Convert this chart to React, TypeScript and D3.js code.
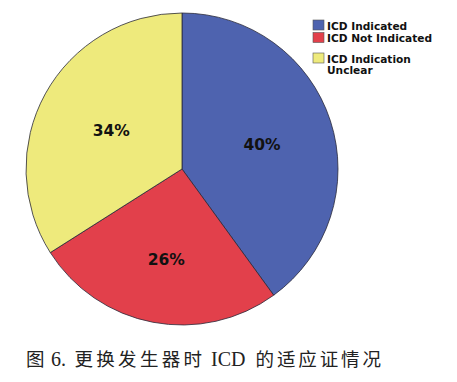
import React from "react";
import * as d3 from "d3";

const categories = ["ICD Indicated", "ICD Not Indicated", "ICD Indication Unclear"];
const values = [40, 26, 34];
const labels = ["40%", "26%", "34%"];
const colors = ["#4E63AF", "#E2404B", "#EEEA7C"];
const legendLines = [["ICD Indicated"], ["ICD Not Indicated"], ["ICD Indication", "Unclear"]];
const captionParts = ["图", "6.", "更换发生器时", "ICD", "的适应证情况"];

export default function App() {
  const W = 457, H = 382;
  const cx = 182, cy = 169, r = 156;
  const pie = d3.pie<number>().sort(null).value((d) => d);
  const arcs = pie(values);
  const arc = d3.arc<d3.PieArcDatum<number>>().innerRadius(0).outerRadius(r);
  const labelArc = d3.arc<d3.PieArcDatum<number>>().innerRadius(r * 0.54).outerRadius(r * 0.54);
  const legendY = [20, 32.5, 53];
  const capX = [26, 51, 74.5, 211, 255.5];
  const capSpacing = [0, 0, 3.3, 0, 2.9];
  const capCjk = [true, false, true, false, true];
  return (
    <svg width={W} height={H} style={{ position: "absolute", left: 0, top: 0, background: "#fff" }}>
      <rect width={W} height={H} fill="#fff" />
      <g transform={`translate(${cx},${cy})`}>
        {arcs.map((a, i) => (
          <path key={i} d={arc(a) || ""} fill={colors[i]} stroke="#2a2a3a" strokeWidth={0.8} />
        ))}
        {arcs.map((a, i) => {
          const [x, y] = labelArc.centroid(a);
          return (
            <text key={i} x={x + (i === 2 ? 3 : 0)} y={y + (i === 1 ? 8 : i === 2 ? 3 : 2)} textAnchor="middle" dominantBaseline="central"
              fontFamily="DejaVu Sans" fontWeight="bold" fontSize={15.5} fill="#111">
              {labels[i]}
            </text>
          );
        })}
      </g>
      <g>
        {categories.map((c, i) => (
          <g key={c} transform={`translate(313,${legendY[i]})`}>
            <rect x={0} y={0} width={11} height={10} fill={colors[i]} stroke="#555" strokeWidth={0.6} />
            {legendLines[i].map((t, j) => (
              <text key={j} x={14} y={9.5 + j * 11.8} fontFamily="DejaVu Sans" fontWeight="bold" fontSize={10.6} fill="#111">
                {t}
              </text>
            ))}
          </g>
        ))}
      </g>
      <g fill="#222">
        {captionParts.map((p, i) => (
          <text key={i} x={capX[i]} y={365.5}
            fontFamily={capCjk[i] ? "'Noto Sans CJK SC', sans-serif" : "'Liberation Serif', serif"}
            fontSize={capCjk[i] ? 18.5 : 20} letterSpacing={capSpacing[i]}>
            {p}
          </text>
        ))}
      </g>
    </svg>
  );
}
